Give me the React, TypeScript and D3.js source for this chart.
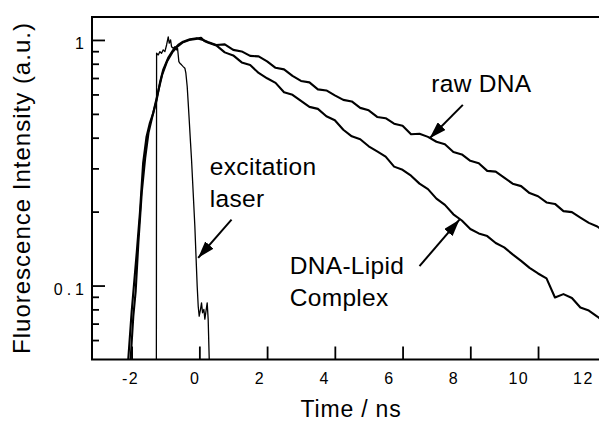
import React, { useEffect, useRef } from "react";
import * as d3 from "d3";

// time (ns), intensity (a.u.)
const rawDna: [number, number][] = [
  [-2.15, 0.045], [-2.1, 0.05], [-2.0, 0.078], [-1.85, 0.136], [-1.755, 0.198],
  [-1.66, 0.316], [-1.56, 0.404], [-1.46, 0.46], [-1.36, 0.505], [-1.26, 0.57],
  [-1.165, 0.669], [-1.07, 0.755], [-0.92, 0.845], [-0.77, 0.911], [-0.625, 0.954],
  [-0.48, 0.984], [-0.28, 1.006], [-0.08, 1.016], [0.11, 1.0],
  [0.25, 0.981], [0.5, 0.954], [0.75, 0.959], [1.0, 0.911], [1.25, 0.898],
  [1.5, 0.861], [1.75, 0.857], [2.0, 0.818], [2.25, 0.77], [2.5, 0.759],
  [2.75, 0.714], [3.0, 0.681], [3.25, 0.672], [3.5, 0.629], [3.75, 0.623],
  [4.0, 0.595], [4.25, 0.57], [4.5, 0.562], [4.75, 0.529], [5.0, 0.517],
  [5.25, 0.486], [5.5, 0.48], [5.75, 0.456], [6.0, 0.447], [6.25, 0.413],
  [6.5, 0.415], [6.75, 0.403], [7.0, 0.385], [7.25, 0.376], [7.5, 0.35],
  [7.75, 0.342], [8.0, 0.322], [8.25, 0.315], [8.5, 0.293], [8.75, 0.291],
  [9.0, 0.275], [9.25, 0.26], [9.5, 0.254], [9.75, 0.238], [10.0, 0.231],
  [10.25, 0.218], [10.5, 0.215], [10.75, 0.201], [11.0, 0.199], [11.25, 0.189],
  [11.5, 0.18], [11.75, 0.174], [11.85, 0.17],
];

const dnaLipid: [number, number][] = [
  [-2.08, 0.045], [-2.03, 0.05], [-1.95, 0.075], [-1.88, 0.095], [-1.8, 0.15],
  [-1.7, 0.24], [-1.6, 0.33], [-1.5, 0.42], [-1.4, 0.48], [-1.3, 0.55],
  [-1.2, 0.63], [-1.1, 0.72], [-0.95, 0.82], [-0.8, 0.89], [-0.65, 0.94],
  [-0.5, 0.975], [-0.3, 1.0], [-0.1, 1.01], [0.05, 1.02], [0.15, 0.99],
  [0.25, 0.977], [0.5, 0.95], [0.75, 0.89], [1.0, 0.865], [1.25, 0.81],
  [1.5, 0.791], [1.75, 0.734], [2.0, 0.698], [2.25, 0.669], [2.5, 0.612],
  [2.75, 0.598], [3.0, 0.565], [3.25, 0.534], [3.5, 0.524], [3.75, 0.489],
  [4.0, 0.471], [4.25, 0.431], [4.5, 0.405], [4.75, 0.394], [5.0, 0.369],
  [5.25, 0.352], [5.5, 0.335], [5.75, 0.305], [6.0, 0.296], [6.25, 0.28],
  [6.5, 0.26], [6.75, 0.247], [7.0, 0.226], [7.25, 0.213], [7.5, 0.195],
  [7.75, 0.184], [8.0, 0.17], [8.25, 0.163], [8.5, 0.159], [8.75, 0.149],
  [9.0, 0.143], [9.25, 0.134], [9.5, 0.126], [9.75, 0.118], [10.0, 0.112],
  [10.25, 0.107], [10.5, 0.0894], [10.75, 0.0923], [11.0, 0.089], [11.25, 0.0814],
  [11.5, 0.0791], [11.75, 0.0748], [11.85, 0.073],
];

const laser: [number, number][] = [
  [-1.27, 0.04], [-1.263, 0.883], [-1.214, 0.869], [-1.165, 0.896], [-1.116, 0.883],
  [-1.067, 0.911], [-1.018, 0.896], [-0.968, 0.954], [-0.919, 1.03], [-0.89, 0.97],
  [-0.85, 1.0], [-0.821, 0.939], [-0.772, 0.925], [-0.723, 0.939], [-0.673, 0.911],
  [-0.644, 0.925], [-0.605, 0.816], [-0.575, 0.804], [-0.526, 0.792], [-0.477, 0.779],
  [-0.428, 0.767], [-0.398, 0.732], [-0.359, 0.646], [-0.329, 0.553], [-0.3, 0.473],
  [-0.26, 0.38], [-0.231, 0.325], [-0.182, 0.238], [-0.133, 0.174], [-0.103, 0.136],
  [-0.064, 0.0994], [-0.034, 0.0824], [-0.005, 0.075], [0.034, 0.08], [0.064, 0.085],
  [0.094, 0.0775], [0.133, 0.08], [0.162, 0.073], [0.192, 0.078], [0.231, 0.085],
  [0.26, 0.073], [0.31, 0.04],
];

const xTicks = [-2, 0, 2, 4, 6, 8, 10];
const xTickLabels = [-2, 0, 2, 4, 6, 8, 10, 12];
const yMajor = [0.1, 1];
const yMinor = [0.06, 0.07, 0.08, 0.09, 0.2, 0.3, 0.4, 0.5, 0.6, 0.7, 0.8, 0.9];

// annotations in data coordinates
const notes = [
  { lines: ["raw DNA"], t: 6.85, v: 0.616 },
  { lines: ["excitation", "laser"], t: 0.31, v: 0.2824 },
  { lines: ["DNA-Lipid", "Complex"], t: 2.67, v: 0.111 },
];
const arrows: { from: [number, number]; to: [number, number] }[] = [
  { from: [7.78, 0.544], to: [6.8, 0.398] },
  { from: [6.5, 0.12], to: [7.68, 0.1855] },
  { from: [0.95, 0.1855], to: [-0.035, 0.1297] },
];

const width = 599;
const height = 421;
const font = "'Liberation Sans', Arial, Helvetica, sans-serif";

export default function App() {
  const ref = useRef<SVGSVGElement>(null);

  useEffect(() => {
    const svg = d3.select(ref.current);
    svg.selectAll("*").remove();

    const left = 92, right = 599, top = 17, bottom = 359.5;

    const x = d3.scaleLinear().domain([-3.17, 11.8]).range([left, right]);
    // the printed tick numbers sit slightly off the tick marks in the original
    const xLab = d3.scaleLinear().domain([-2, 12]).range([130, 583]);
    const y = d3.scaleLog().domain([0.05, 1.24]).range([bottom, top]);

    svg.append("rect").attr("width", width).attr("height", height).attr("fill", "#fff");

    svg.append("defs")
      .append("clipPath").attr("id", "plot")
      .append("rect").attr("x", left).attr("y", top)
      .attr("width", right - left).attr("height", bottom - top);

    const marker = svg.select("defs").append("marker")
      .attr("id", "head")
      .attr("markerUnits", "userSpaceOnUse")
      .attr("markerWidth", 17).attr("markerHeight", 11)
      .attr("refX", 17).attr("refY", 5.5)
      .attr("orient", "auto");
    marker.append("path").attr("d", "M0,0 L17,5.5 L0,11 Z").attr("fill", "#000");

    // curves
    const line = d3.line<[number, number]>()
      .x((d) => x(d[0]))
      .y((d) => y(Math.max(d[1], 0.03)));

    const g = svg.append("g").attr("clip-path", "url(#plot)");
    g.append("path").datum(laser)
      .attr("fill", "none").attr("stroke", "#000").attr("stroke-width", 1.3)
      .attr("stroke-linejoin", "round").attr("d", line);
    g.append("path").datum(dnaLipid)
      .attr("fill", "none").attr("stroke", "#000").attr("stroke-width", 2.1)
      .attr("stroke-linejoin", "round").attr("d", line);
    g.append("path").datum(rawDna)
      .attr("fill", "none").attr("stroke", "#000").attr("stroke-width", 2.1)
      .attr("stroke-linejoin", "round").attr("d", line);

    // frame
    svg.append("path")
      .attr("d", `M${right},${top} H${left} V${bottom} H${right}`)
      .attr("fill", "none").attr("stroke", "#000").attr("stroke-width", 2);

    // y axis ticks
    const yAx = svg.append("g").attr("transform", `translate(${left},0)`);
    yAx.call(d3.axisLeft(y).tickValues(yMajor).tickSizeInner(-13).tickSizeOuter(0)
      .tickPadding(4).tickFormat((d) => (d === 1 ? "1" : "0.1")));
    yAx.append("g").call(d3.axisLeft(y).tickValues(yMinor).tickSizeInner(-7)
      .tickSizeOuter(0).tickFormat(() => ""));
    yAx.selectAll(".domain").remove();
    yAx.selectAll("line").attr("stroke", "#000").attr("stroke-width", 1.8);
    yAx.selectAll("text")
      .attr("dy", 0).attr("y", 9)
      .attr("font-family", font).attr("font-size", 16)
      .attr("letter-spacing", 4).attr("fill", "#000");

    // x axis ticks
    const xAx = svg.append("g").attr("transform", `translate(0,${bottom})`);
    xAx.call(d3.axisBottom(x).tickValues(xTicks).tickSizeInner(-13)
      .tickSizeOuter(0).tickFormat(() => ""));
    xAx.selectAll(".domain").remove();
    xAx.selectAll("line").attr("stroke", "#000").attr("stroke-width", 1.8);

    const xLabAx = svg.append("g").attr("transform", `translate(0,${bottom})`);
    xLabAx.call(d3.axisBottom(xLab).tickValues(xTickLabels).tickSize(0)
      .tickFormat((d) => String(d)));
    xLabAx.selectAll(".domain").remove();
    xLabAx.selectAll("line").remove();
    xLabAx.selectAll("text")
      .attr("dy", 0).attr("y", 24)
      .attr("font-family", font).attr("font-size", 16)
      .attr("letter-spacing", 1.5).attr("fill", "#000");

    // axis titles
    svg.append("text")
      .attr("x", 351).attr("y", 417)
      .attr("text-anchor", "middle")
      .attr("font-family", font).attr("font-size", 23).attr("letter-spacing", 0.8)
      .text("Time / ns");

    svg.append("text")
      .attr("transform", `translate(30,188) rotate(-90)`)
      .attr("text-anchor", "middle")
      .attr("font-family", font).attr("font-size", 24).attr("letter-spacing", 1)
      .text("Fluorescence Intensity (a.u.)");

    // annotations
    notes.forEach((n) => {
      const t = svg.append("text")
        .attr("x", x(n.t)).attr("y", y(n.v))
        .attr("font-family", font).attr("font-size", 24.5).attr("letter-spacing", 0.3);
      n.lines.forEach((s, i) => {
        t.append("tspan").attr("x", x(n.t)).attr("dy", i === 0 ? 0 : 32).text(s);
      });
    });

    svg.selectAll(".arrow").data(arrows).enter().append("line")
      .attr("class", "arrow")
      .attr("x1", (d) => x(d.from[0])).attr("y1", (d) => y(d.from[1]))
      .attr("x2", (d) => x(d.to[0])).attr("y2", (d) => y(d.to[1]))
      .attr("stroke", "#000").attr("stroke-width", 2)
      .attr("marker-end", "url(#head)");
  }, []);

  return (
    <svg
      ref={ref}
      width={width}
      height={height}
      style={{ position: "absolute", left: 0, top: 0, display: "block" }}
    />
  );
}
